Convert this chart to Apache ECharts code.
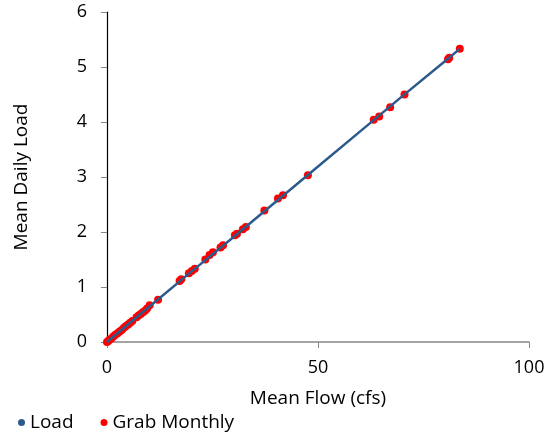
<!DOCTYPE html>
<html>
<head>
<meta charset="utf-8">
<script src="https://cdn.jsdelivr.net/npm/echarts@6/dist/echarts.min.js"></script>
<style>
  html, body { margin: 0; padding: 0; background: #fff; }
  #main { width: 556px; height: 436px; }
</style>
</head>
<body>
<div id="main"></div>
<script>
// grab monthly samples: mean flow (cfs) vs mean daily load
var grabFlow = [0, 0.3, 0.6, 1, 1.5, 2, 2.5, 3, 3.5, 4, 4.5, 5, 5.5, 6, 7, 7.5, 8, 8.5, 9, 9.5, 10.1, 12.1,
                17.2, 17.6, 19.4, 20.1, 20.8, 23.3, 24.3, 25.1, 26.9, 27.5, 30.3, 30.8, 32.2, 32.9,
                37.3, 40.5, 41.7, 47.6, 63.2, 64.5, 67.1, 70.5, 80.8, 81.1, 83.6];
var grabLoad = [0, 0.02, 0.04, 0.06, 0.1, 0.13, 0.16, 0.19, 0.22, 0.26, 0.29, 0.32, 0.35, 0.38, 0.45, 0.48, 0.51, 0.54, 0.57, 0.61, 0.67, 0.77,
                1.11, 1.14, 1.25, 1.29, 1.33, 1.5, 1.58, 1.63, 1.72, 1.76, 1.94, 1.97, 2.05, 2.09,
                2.39, 2.61, 2.67, 3.03, 4.04, 4.1, 4.27, 4.5, 5.14, 5.17, 5.33];
// load curve
var loadFlow = [0, 10, 20, 30, 40, 50, 60, 70, 80, 83.6];
var loadValue = [0, 0.64, 1.28, 1.91, 2.55, 3.19, 3.83, 4.47, 5.1, 5.33];

var chart = echarts.init(document.getElementById('main'));
var font = '"Open Sans", Lato, sans-serif';

function pairs(xs, ys) {
  return xs.map(function (x, i) { return [x, ys[i]]; });
}

chart.setOption({
  animation: false,
  textStyle: { fontFamily: font },
  grid: { left: 107, right: 27, top: 12, bottom: 94, containLabel: false },
  legend: {
    left: 13,
    bottom: -1,
    itemWidth: 7,
    itemHeight: 7,
    itemGap: 27,
    textStyle: { fontSize: 19, color: '#000', fontFamily: font },
    data: [
      { name: 'Load', icon: 'circle', itemStyle: { color: '#2d5a8c' } },
      { name: 'Grab Monthly', icon: 'circle', itemStyle: { color: '#ff0000' } }
    ]
  },
  xAxis: {
    type: 'value',
    min: 0, max: 100, interval: 50,
    name: 'Mean Flow (cfs)',
    nameLocation: 'middle',
    nameGap: 47,
    nameTextStyle: { fontSize: 19, color: '#000' },
    axisLine: { lineStyle: { color: '#868686', width: 1.5 } },
    axisTick: { show: true, length: 6, lineStyle: { color: '#868686' } },
    axisLabel: { fontSize: 18, color: '#000', margin: 17 },
    splitLine: { show: false }
  },
  yAxis: {
    type: 'value',
    min: 0, max: 6, interval: 1,
    name: 'Mean Daily Load',
    nameLocation: 'middle',
    nameGap: 76,
    nameTextStyle: { fontSize: 19, color: '#000' },
    axisLine: { show: true, lineStyle: { color: '#000', width: 1.2 } },
    axisTick: { show: true, length: 6, lineStyle: { color: '#868686' } },
    axisLabel: { fontSize: 18, color: '#000', margin: 20 },
    splitLine: { show: false }
  },
  series: [
    {
      name: 'Grab Monthly',
      type: 'scatter',
      symbol: 'circle',
      symbolSize: 8,
      itemStyle: { color: '#ff0000', opacity: 1 },
      data: pairs(grabFlow, grabLoad),
      z: 2
    },
    {
      name: 'Load',
      type: 'line',
      showSymbol: false,
      symbol: 'circle',
      lineStyle: { color: '#2d5a8c', width: 2.5 },
      itemStyle: { color: '#2d5a8c' },
      data: pairs(loadFlow, loadValue),
      z: 3
    }
  ]
});
</script>
</body>
</html>
